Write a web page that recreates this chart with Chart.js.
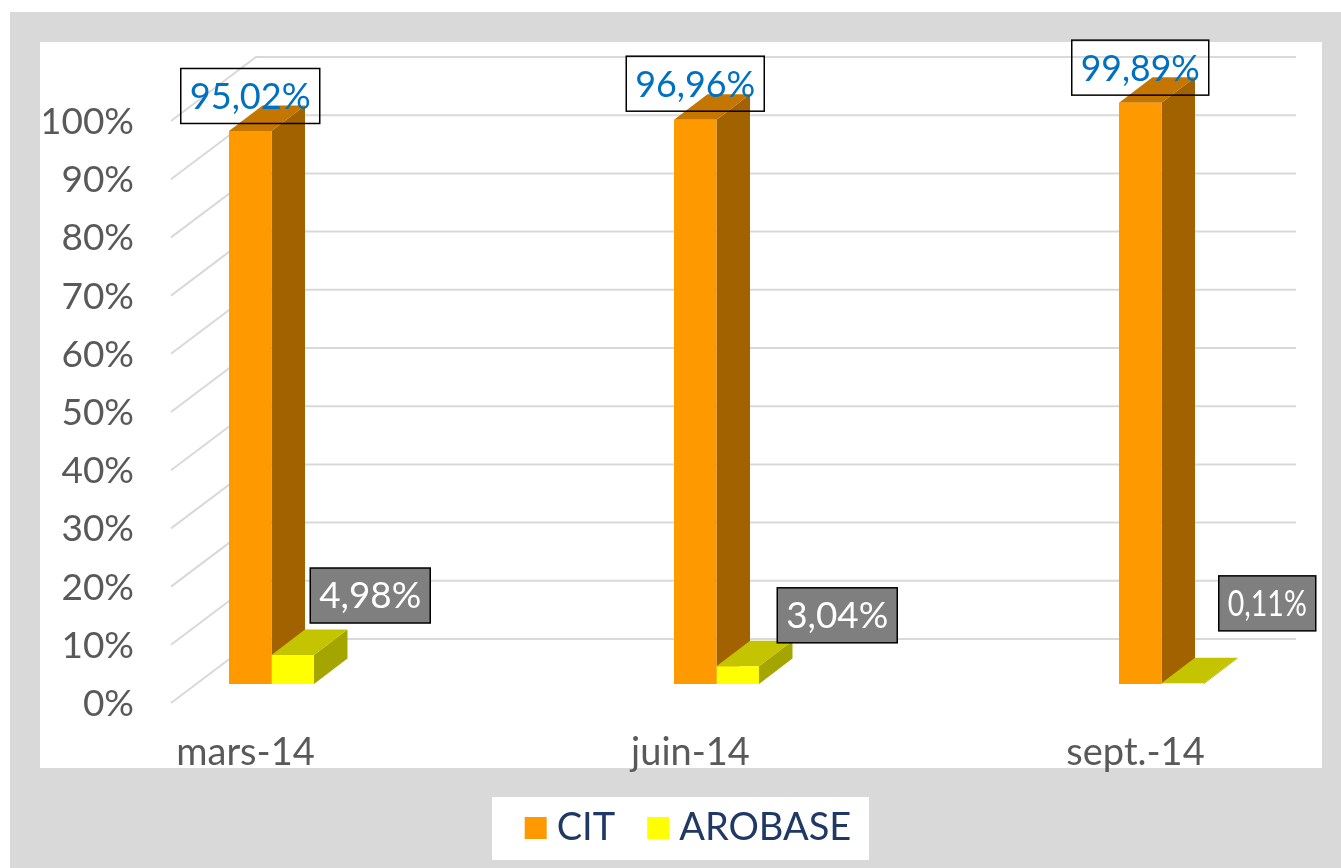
<!DOCTYPE html>
<html>
<head>
<meta charset="utf-8">
<title>CIT / AROBASE</title>
<script src="https://cdn.jsdelivr.net/npm/chart.js@4"></script>
<style>
  html, body { margin: 0; padding: 0; background: #fff; overflow: hidden; }
  #frame { position: absolute; left: 10px; top: 12px; width: 1331px; height: 856px; background: #d9d9d9; }
  #plot { position: absolute; left: 40px; top: 42px; width: 1282px; height: 726px; background: #fff; }
  #legendbox { position: absolute; left: 492px; top: 797px; width: 377px; height: 63px; background: #fff; }
  #conversion { position: absolute; left: 0; top: 0; }
</style>
</head>
<body>
<div id="frame"></div>
<div id="plot"></div>
<div id="legendbox"></div>
<canvas id="conversion" width="1341" height="868"></canvas>
<script>
var categories = ["mars-14", "juin-14", "sept.-14"];
var citValues = [95.02, 96.96, 99.89];
var arobaseValues = [4.98, 3.04, 0.11];

var fontName = "Lato";
var tickColor = "#595959";
var depth = { x: 33.5, y: 25.5 };       // fake 3d depth of the columns
var wall = { x: 85, y: 45, low: 19 };   // back wall / left wall of the fake 3d box

// offset of each label box from the top centre of its bar, and box width
var labelShift = [
  [[0, -35], [0, -36], [0, -35]],
  [[77.5, -59.5], [99.5, -51], [84.5, -80]]
];
var labelWidth = [
  [139, 138, 137],
  [120, 120, 97]
];

function poly(ctx, pts, color) {
  ctx.fillStyle = color;
  ctx.beginPath();
  pts.forEach(function (p, i) {
    if (i === 0) ctx.moveTo(p[0], p[1]);
    else ctx.lineTo(p[0], p[1]);
  });
  ctx.closePath();
  ctx.fill();
}

var box3d = {
  id: "box3d",
  afterLayout: function (chart) {
    // x labels get clipped to the axis box, the descenders need more room
    chart.scales.x.bottom = chart.height;
  },
  beforeDatasetsDraw: function (chart) {
    var ctx = chart.ctx;
    var y = chart.scales.y;
    var wallLeft = 171, wallRight = 1296;

    ctx.save();
    ctx.strokeStyle = "#d9d9d9";
    ctx.lineWidth = 2;
    y.ticks.forEach(function (t) {
      var py = y.getPixelForValue(t.value);
      ctx.beginPath();
      ctx.moveTo(wallLeft, py + wall.low);
      ctx.lineTo(wallLeft + wall.x, py - wall.y);
      ctx.lineTo(wallRight, py - wall.y);
      ctx.stroke();
    });

    // side and top faces, the library draws the front faces over them
    chart.data.datasets.forEach(function (ds, d) {
      chart.getDatasetMeta(d).data.forEach(function (bar) {
        var l = bar.x - bar.width / 2, r = bar.x + bar.width / 2;
        poly(ctx, [[r, bar.y], [r + depth.x, bar.y - depth.y], [r + depth.x, bar.base - depth.y], [r, bar.base]], ds.sideColor);
        poly(ctx, [[l, bar.y], [l + depth.x, bar.y - depth.y], [r + depth.x, bar.y - depth.y], [r, bar.y]], ds.topColor);
      });
    });
    ctx.restore();
  },
  afterDatasetsDraw: function (chart) {
    var ctx = chart.ctx;
    ctx.save();
    ctx.font = "400 37px " + fontName;
    ctx.textAlign = "center";
    ctx.textBaseline = "middle";
    chart.data.datasets.forEach(function (ds, d) {
      chart.getDatasetMeta(d).data.forEach(function (bar, i) {
        var txt = ds.data[i].toFixed(2).replace(".", ",") + "%";
        var cx = bar.x + labelShift[d][i][0];
        var cy = bar.y + labelShift[d][i][1];
        var w = labelWidth[d][i];
        if (ds.labelFill) {
          ctx.fillStyle = ds.labelFill;
          ctx.fillRect(cx - w / 2, cy - 27.5, w, 55);
        }
        ctx.strokeStyle = "#000";
        ctx.lineWidth = 1.5;
        ctx.strokeRect(cx - w / 2, cy - 27.5, w, 55);
        ctx.fillStyle = ds.labelColor;
        ctx.fillText(txt, cx, cy + 1, w - 18);
      });
    });
    ctx.restore();
  }
};

new Chart(document.getElementById("conversion").getContext("2d"), {
  type: "bar",
  data: {
    labels: categories,
    datasets: [
      {
        label: "CIT",
        data: citValues,
        backgroundColor: "#ff9900",
        sideColor: "#a26200",
        topColor: "#c47600",
        labelColor: "#0070c0",
        labelFill: null,
        clip: false,
        inflateAmount: 0,
        barThickness: 42.5
      },
      {
        label: "AROBASE",
        data: arobaseValues,
        backgroundColor: "#ffff00",
        sideColor: "#a5a500",
        topColor: "#c4c400",
        labelColor: "#ffffff",
        labelFill: "#7f7f7f",
        clip: false,
        inflateAmount: 0,
        barThickness: 42.5
      }
    ]
  },
  plugins: [box3d],
  options: {
    responsive: false,
    animation: false,
    layout: { padding: { top: 102, left: 44, right: 0, bottom: 11 } },
    scales: {
      x: {
        offset: false,
        grid: { display: false, drawTicks: false },
        border: { display: false },
        afterFit: function (s) { s.height = 84; },
        ticks: {
          color: tickColor,
          font: { family: fontName, size: 38, weight: "400" },
          labelOffset: -26,
          padding: 46,
          autoSkip: false,
          maxRotation: 0
        }
      },
      y: {
        min: 0,
        max: 100,
        grid: { display: false, drawTicks: false },
        border: { display: false },
        afterFit: function (s) {
          s.width = 227.5;
          // ticks.padding below would otherwise be added above and under the plot
          s.paddingTop = 0;
          s.paddingBottom = 0;
        },
        ticks: {
          stepSize: 10,
          color: tickColor,
          font: { family: fontName, size: 37, weight: "400" },
          labelOffset: 20,
          padding: 137.5,
          callback: function (v) { return v + "%"; }
        }
      },
      // empty axis, only keeps the plot narrower than the page on the right
      spacer: {
        type: "linear",
        position: "right",
        grid: { display: false, drawTicks: false },
        border: { display: false },
        ticks: { display: false },
        afterFit: function (s) { s.width = 179.5; }
      }
    },
    plugins: {
      tooltip: { enabled: false },
      legend: {
        position: "bottom",
        labels: {
          color: "#1f3864",
          font: { family: fontName, size: 38, weight: "400" },
          usePointStyle: true,
          pointStyle: "rect",
          boxWidth: 4,
          boxHeight: 22,
          padding: 41
        }
      }
    }
  }
});
</script>
</body>
</html>
